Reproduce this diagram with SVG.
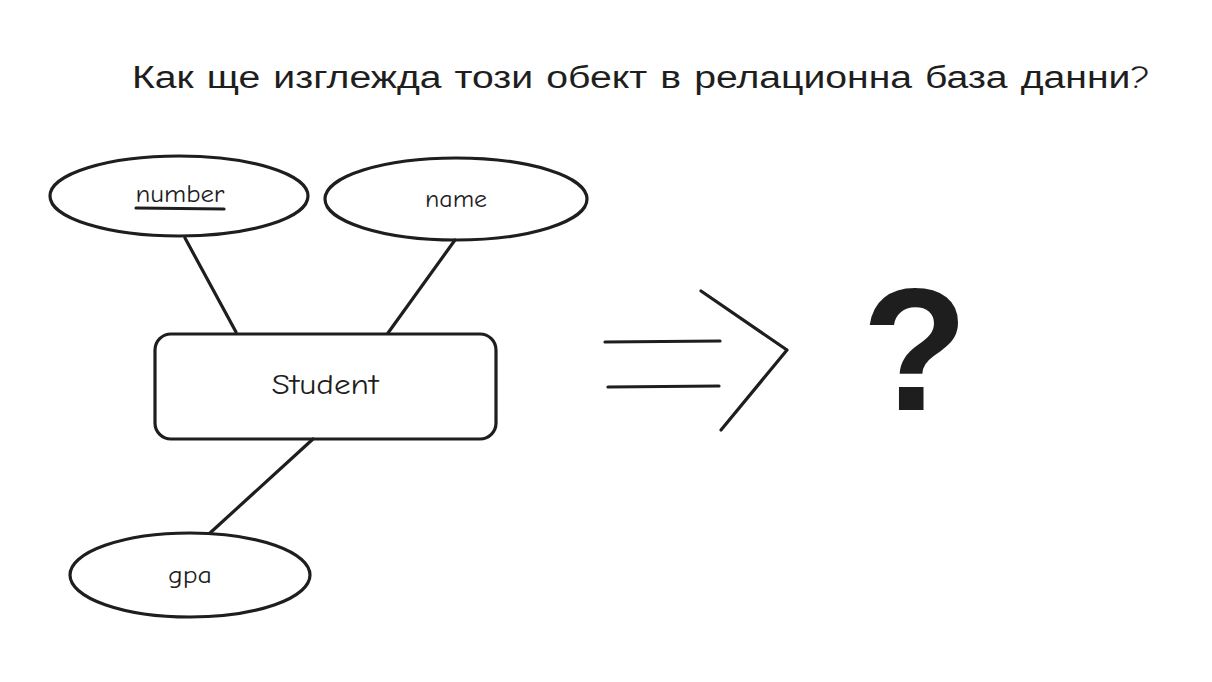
<svg xmlns="http://www.w3.org/2000/svg" width="1212" height="682" viewBox="0 0 1212 682">
<style>
.s{fill:none;stroke:#1e1e1e;stroke-width:3.2;stroke-linecap:round;stroke-linejoin:round}
.t{font-family:"Comic Neue","Liberation Sans",sans-serif;fill:#1e1e1e;text-anchor:middle}
</style>
<rect width="1212" height="682" fill="#ffffff"/>
<text class="t" x="641" y="88" font-size="31" textLength="1018" lengthAdjust="spacingAndGlyphs">Как ще изглежда този обект в релационна база данни?</text>
<g id="connectors">
<line class="s" x1="185" y1="238" x2="236" y2="332"/>
<line class="s" x1="455" y1="240" x2="388" y2="333"/>
<line class="s" x1="313" y1="439" x2="210" y2="533"/>
</g>
<g id="number">
<ellipse class="s" cx="179" cy="196" rx="129" ry="40"/>
<text class="t" x="180" y="202" font-size="24" textLength="89" lengthAdjust="spacingAndGlyphs">number</text>
<line class="s" x1="136" y1="208" x2="224" y2="209" stroke-width="3.5"/>
</g>
<g id="name">
<ellipse class="s" cx="456" cy="199" rx="131" ry="41"/>
<text class="t" x="456" y="207" font-size="24" textLength="62" lengthAdjust="spacingAndGlyphs">name</text>
</g>
<g id="student">
<rect class="s" x="155" y="334" width="341" height="105" rx="16"/>
<text class="t" x="325" y="394" font-size="28" textLength="107" lengthAdjust="spacingAndGlyphs">Student</text>
</g>
<g id="gpa">
<ellipse class="s" cx="190" cy="575" rx="120" ry="42"/>
<text class="t" x="190" y="583" font-size="24" textLength="44" lengthAdjust="spacingAndGlyphs">gpa</text>
</g>
<g id="arrow">
<line class="s" x1="605" y1="342" x2="720" y2="341" stroke-width="4"/>
<line class="s" x1="608" y1="387" x2="719" y2="386" stroke-width="4"/>
<polyline class="s" points="701,291 787,350 721,430" stroke-width="3.5"/>
</g>
<g id="question">
<text x="915" y="410" font-family="'Liberation Sans',sans-serif" font-weight="bold" font-size="174" fill="#1e1e1e" text-anchor="middle">?</text>
</g>
</svg>
